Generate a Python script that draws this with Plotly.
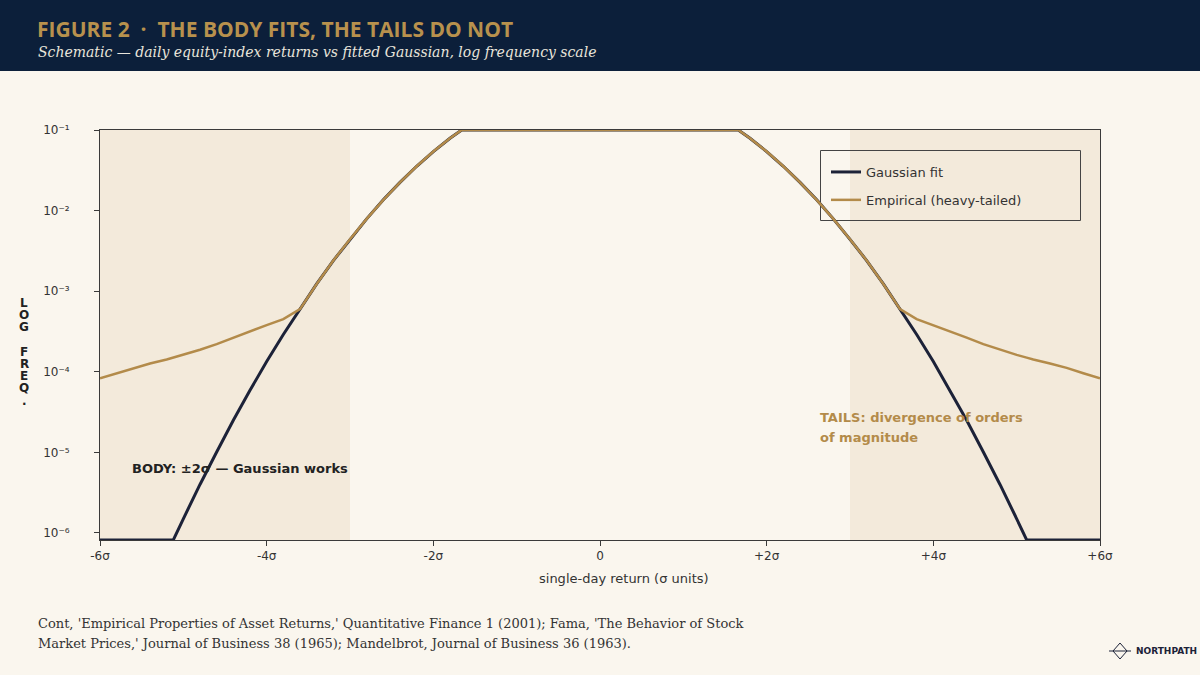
import plotly.graph_objects as go

# ---------------- data ----------------
returns_sigma = [-6.0, -5.8, -5.6, -5.4, -5.2, -5.12, -5.0, -4.8, -4.6, -4.4, -4.2, -4.0,
                 -3.8, -3.6, -3.4, -3.2, -3.0, -2.8, -2.6, -2.4, -2.2, -2.0, -1.8, -1.66,
                 -1.6, -1.4, -1.2, -1.0, -0.8, -0.6, -0.4, -0.2, 0.0,
                 0.2, 0.4, 0.6, 0.8, 1.0, 1.2, 1.4, 1.6, 1.66, 1.8, 2.0, 2.2, 2.4, 2.6,
                 2.8, 3.0, 3.2, 3.4, 3.6, 3.8, 4.0, 4.2, 4.4, 4.6, 4.8, 5.0, 5.12, 5.2,
                 5.4, 5.6, 5.8, 6.0]

gaussian_fit = [8.2e-7, 8.2e-7, 8.2e-7, 8.2e-7, 8.2e-7, 8.2e-7, 1.5e-6, 4.0e-6, 1.01e-5,
                2.5e-5, 5.9e-5, 1.34e-4, 2.9e-4, 6.0e-4, 1.23e-3, 2.4e-3, 4.4e-3, 7.9e-3,
                1.36e-2, 2.24e-2, 3.55e-2, 5.4e-2, 7.9e-2, 0.1,
                0.1, 0.1, 0.1, 0.1, 0.1, 0.1, 0.1, 0.1, 0.1,
                0.1, 0.1, 0.1, 0.1, 0.1, 0.1, 0.1, 0.1, 0.1, 7.9e-2, 5.4e-2, 3.55e-2,
                2.24e-2, 1.36e-2, 7.9e-3, 4.4e-3, 2.4e-3, 1.23e-3, 6.0e-4, 2.9e-4, 1.34e-4,
                5.9e-5, 2.5e-5, 1.01e-5, 4.0e-6, 1.5e-6, 8.2e-7, 8.2e-7, 8.2e-7, 8.2e-7,
                8.2e-7, 8.2e-7]

empirical_freq = [8.3e-5, 9.6e-5, 1.12e-4, 1.27e-4, 1.42e-4, 1.5e-4, 1.62e-4, 1.88e-4,
                  2.2e-4, 2.65e-4, 3.2e-4, 3.8e-4, 4.5e-4, 6.0e-4, 1.23e-3, 2.4e-3, 4.4e-3,
                  7.9e-3, 1.36e-2, 2.24e-2, 3.55e-2, 5.4e-2, 7.9e-2, 0.1,
                  0.1, 0.1, 0.1, 0.1, 0.1, 0.1, 0.1, 0.1, 0.1,
                  0.1, 0.1, 0.1, 0.1, 0.1, 0.1, 0.1, 0.1, 0.1, 7.9e-2, 5.4e-2, 3.55e-2,
                  2.24e-2, 1.36e-2, 7.9e-3, 4.4e-3, 2.4e-3, 1.23e-3, 6.0e-4, 4.5e-4, 3.8e-4,
                  3.2e-4, 2.65e-4, 2.2e-4, 1.88e-4, 1.62e-4, 1.5e-4, 1.42e-4, 1.27e-4,
                  1.12e-4, 9.6e-5, 8.3e-5]

x_tick_vals = [-6, -4, -2, 0, 2, 4, 6]
x_tick_text = ["-6σ", "-4σ", "-2σ", "0", "+2σ", "+4σ", "+6σ"]
y_tick_vals = [1e-6, 1e-5, 1e-4, 1e-3, 1e-2, 1e-1]
y_tick_text = ["10⁻⁶", "10⁻⁵", "10⁻⁴", "10⁻³", "10⁻²", "10⁻¹"]
tail_zones = [(-6, -3), (3, 6)]

series_names = ["Gaussian fit", "Empirical (heavy-tailed)"]
title_text = "FIGURE 2  ·  THE BODY FITS, THE TAILS DO NOT"
subtitle_text = "Schematic — daily equity-index returns vs fitted Gaussian, log frequency scale"
source_lines = ["Cont, 'Empirical Properties of Asset Returns,' Quantitative Finance 1 (2001); Fama, 'The Behavior of Stock",
                "Market Prices,' Journal of Business 38 (1965); Mandelbrot, Journal of Business 36 (1963)."]
x_title = "single-day return (σ units)"
y_title = "LOG FREQ."

# ---------------- style ----------------
W, H = 1200, 675
L, R, T, B = 100, 100, 130, 135
BG = "#faf6ee"
SHADE = "#f3eadb"
NAVY = "#0c1f3a"
LINE_NAVY = "#1c2238"
GOLD = "#b38b4a"
INK = "#333333"
SANS = "DejaVu Sans"
SERIF = "DejaVu Serif"


def px(x):
    return (x - L) / (W - L - R)


def py(y):
    return (H - B - y) / (H - T - B)


fig = go.Figure()

fig.add_trace(go.Scatter(x=returns_sigma, y=gaussian_fit, mode="lines", name=series_names[0],
                         legendgroup="g", cliponaxis=False, line=dict(color=LINE_NAVY, width=3)))
fig.add_trace(go.Scatter(x=returns_sigma, y=empirical_freq, mode="lines", name=series_names[1],
                         legendgroup="e", cliponaxis=False, line=dict(color=GOLD, width=2.5)))

shapes = []
for x0, x1 in tail_zones:
    shapes.append(dict(type="rect", xref="x", yref="paper", x0=x0, x1=x1, y0=0, y1=1,
                       fillcolor=SHADE, line=dict(width=0), layer="below"))
# legend frame
shapes.append(dict(type="rect", xref="paper", yref="paper", x0=px(820.5), x1=px(1080.5),
                   y0=py(220.5), y1=py(150.5), fillcolor="rgba(0,0,0,0)",
                   line=dict(color="#444444", width=1), layer="below"))
# header band
shapes.append(dict(type="rect", xref="paper", yref="paper", x0=px(0), x1=px(W), y0=py(71), y1=py(0),
                   fillcolor=NAVY, line=dict(width=0), layer="below"))
# logo
shapes.append(dict(type="path", xref="paper", yref="paper",
                   path=f"M {px(1113)} {py(651)} L {px(1120)} {py(643)} L {px(1127)} {py(651)} L {px(1120)} {py(659)} Z",
                   line=dict(color=LINE_NAVY, width=1), fillcolor="rgba(0,0,0,0)"))
shapes.append(dict(type="line", xref="paper", yref="paper", x0=px(1109), x1=px(1131), y0=py(651), y1=py(651),
                   line=dict(color=LINE_NAVY, width=1)))

annotations = [
    dict(text=f"<b>{title_text}</b>", xref="paper", yref="paper", x=px(35), y=py(29),
         xanchor="left", yanchor="middle", showarrow=False,
         font=dict(family="Open Sans", size=21, color="#b8914d")),
    dict(text=f"<i>{subtitle_text}</i>", xref="paper", yref="paper", x=px(36), y=py(52),
         xanchor="left", yanchor="middle", showarrow=False,
         font=dict(family=SERIF, size=14, color="#e9e5dc")),
    dict(text="<b>BODY: ±2σ — Gaussian works</b>", xref="x", yref="y", x=-5.64, y=-5.194,
         xanchor="left", yanchor="middle", showarrow=False,
         font=dict(family=SANS, size=13, color="#222222")),
    dict(text="<b>TAILS: divergence of orders</b>", xref="x", yref="y", x=2.62, y=-4.573,
         xanchor="left", yanchor="middle", showarrow=False,
         font=dict(family=SANS, size=13, color=GOLD)),
    dict(text="<b>of magnitude</b>", xref="x", yref="y", x=2.62, y=-4.821,
         xanchor="left", yanchor="middle", showarrow=False,
         font=dict(family=SANS, size=13, color=GOLD)),
    dict(text="<b>NORTHPATH</b>", xref="paper", yref="paper", x=px(1134), y=py(651),
         xanchor="left", yanchor="middle", showarrow=False,
         font=dict(family=SANS, size=9, color=LINE_NAVY)),
    dict(text=x_title, xref="paper", yref="paper", x=px(624), y=py(578),
         xanchor="center", yanchor="middle", showarrow=False,
         font=dict(family=SANS, size=13, color=INK)),
]
for i, line in enumerate(source_lines):
    annotations.append(dict(text=line, xref="paper", yref="paper", x=px(36), y=py(623 + 20 * i),
                            xanchor="left", yanchor="middle", showarrow=False,
                            font=dict(family=SERIF, size=13, color=INK)))
for i, ch in enumerate(y_title):
    if ch == " ":
        continue
    annotations.append(dict(text=f"<b>{ch}</b>", xref="paper", yref="paper", x=px(24), y=py(303 + 12.2 * i),
                            xanchor="center", yanchor="middle", showarrow=False,
                            font=dict(family=SANS, size=12, color="#222222")))

fig.update_layout(
    width=W, height=H,
    margin=dict(l=L, r=R, t=T, b=B),
    paper_bgcolor=BG, plot_bgcolor=BG,
    font=dict(family=SANS, size=12, color=INK),
    showlegend=True,
    legend=dict(x=px(826), y=py(157), xanchor="left", yanchor="top",
                bgcolor="rgba(0,0,0,0)", borderwidth=0,
                font=dict(family=SANS, size=13, color=INK), itemwidth=30,
                tracegroupgap=8),
    shapes=shapes,
    annotations=annotations,
    xaxis=dict(range=[-6, 6], tickvals=x_tick_vals, ticktext=x_tick_text,
               showgrid=False, zeroline=False, showline=True, linecolor="#3a3a3a", linewidth=1,
               mirror=True, ticks="outside", ticklen=5, tickcolor="#3a3a3a",
               tickfont=dict(size=12, color=INK), layer="below traces"),
    yaxis=dict(type="log", range=[-6.087, -1], tickvals=y_tick_vals, ticktext=y_tick_text,
               showgrid=False, zeroline=False, showline=True, linecolor="#3a3a3a", linewidth=1,
               mirror=True, ticks="outside", ticklen=5, tickcolor="#3a3a3a",
               tickfont=dict(size=12, color=INK), ticklabelstandoff=22, layer="below traces"),
)

fig.write_html("out.html", config={"displayModeBar": False},
               post_script="document.body.style.margin='0';document.body.style.overflow='hidden';")
